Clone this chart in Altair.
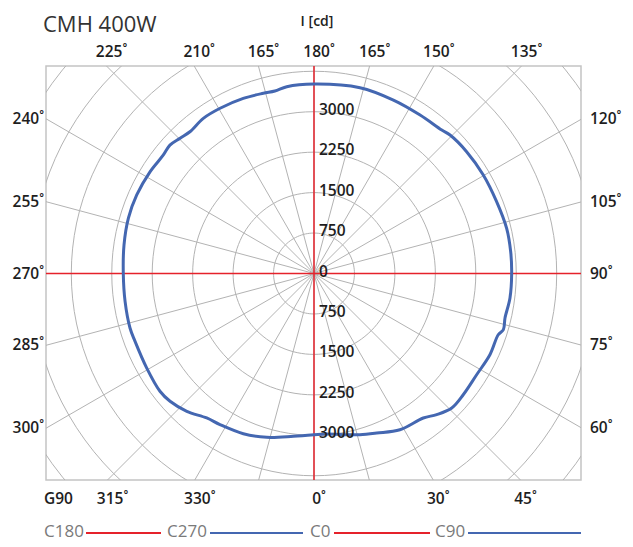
import altair as alt
import pandas as pd
import math

# ---------------- data ----------------
GAMMA = [0, 4.5, 10.3, 15.9, 21.5, 28.8, 37.1, 41.0, 45.7, 50.9, 58.1, 65.2, 71.6, 73.5, 76.9,
         82.9, 90, 96.3, 103.2, 111.5, 120.2, 128.6, 135.5, 138.3, 146.2, 155.4, 166.1, 180,
         188.3, 192.1, 195.7, 202.0, 209.6, 215.5, 221.2, 224.7, 228.3, 231.8, 238.2, 246.1,
         253.4, 261.5, 270, 278.4, 286.5, 290.7, 299.5, 307.4, 311.6, 317.3, 323.4, 328.1,
         336.2, 343.9, 352.8, 360]
INTENSITY = [2989, 2985, 3037, 3107, 3178, 3306, 3359, 3467, 3569, 3565, 3552, 3593, 3600, 3662, 3636,
             3662, 3665, 3669, 3669, 3639, 3632, 3621, 3599, 3562, 3536, 3537, 3549, 3513,
             3500, 3460, 3471, 3502, 3524, 3534, 3493, 3530, 3578, 3554, 3578, 3595,
             3591, 3562, 3536, 3541, 3558, 3549, 3563, 3595, 3569, 3478, 3337, 3300,
             3246, 3161, 3042, 2989]

RINGS = [750, 1500, 2250, 3000, 3750, 4500, 5250, 6000, 6750]
SCALE_LABELS = [750, 1500, 2250, 3000]
SPOKES = list(range(0, 360, 15))

TOP_ANGLES = [-45, -30, -15, 0, 15, 30, 45]
TOP_TEXT = ["225˚", "210˚", "165˚", "180˚", "165˚", "150˚", "135˚"]
BOTTOM_ANGLES = [-45, -30, 0, 30, 45]
BOTTOM_TEXT = ["315˚", "330˚", "0˚", "30˚", "45˚"]
LEFT_ANGLES = [30, 15, 0, -15, -30]
LEFT_TEXT = ["240˚", "255˚", "270˚", "285˚", "300˚"]
RIGHT_ANGLES = [30, 15, 0, -15, -30]
RIGHT_TEXT = ["120˚", "105˚", "90˚", "75˚", "60˚"]

LEGEND_LABELS = ["C180", "C270", "C0", "C90"]

# ---------------- styling / layout ----------------
RED = "#e5222b"
BLUE = "#4467b1"
GRID = "#b3b3b3"
FONT = "Open Sans"
W, H = 535, 414
K = 161.8 / 3000.0            # pixels per cd
XMIN, XMAX = -268 / K, 267 / K
YMIN, YMAX = -206.5 / K, 207.5 / K

xs = alt.Scale(domain=[XMIN, XMAX], nice=False, zero=False)
ys = alt.Scale(domain=[YMIN, YMAX], nice=False, zero=False)
X = lambda f: alt.X(f, type="quantitative", scale=xs, axis=None)
Y = lambda f: alt.Y(f, type="quantitative", scale=ys, axis=None)

# rings
ring_df = pd.DataFrame([(r, a) for r in RINGS for a in range(0, 361, 3)], columns=["r", "a"])
rings = alt.Chart(ring_df).transform_calculate(
    px="datum.r * sin(datum.a * PI / 180)",
    py="-datum.r * cos(datum.a * PI / 180)",
).mark_line(color=GRID, strokeWidth=1, clip=True).encode(
    x=X("px"), y=Y("py"), detail="r:N", order="a:Q")

# spokes
spoke_df = pd.DataFrame({"a": SPOKES})
spokes = alt.Chart(spoke_df).transform_calculate(
    x0="0", y0="0",
    x1="9000 * sin(datum.a * PI / 180)",
    y1="-9000 * cos(datum.a * PI / 180)",
).mark_rule(color=GRID, strokeWidth=1, clip=True).encode(
    x=X("x0"), y=Y("y0"), x2="x1:Q", y2="y1:Q")

# red axes
zero_df = pd.DataFrame({"v": [0]})
vline = alt.Chart(zero_df).mark_rule(color=RED, strokeWidth=1.5).encode(x=X("v"))
hline = alt.Chart(zero_df).mark_rule(color=RED, strokeWidth=1.5).encode(y=Y("v"))

# curve
curve_df = pd.DataFrame({"gamma": GAMMA, "I": INTENSITY})
curve = alt.Chart(curve_df).transform_calculate(
    px="datum.I * sin(datum.gamma * PI / 180)",
    py="-datum.I * cos(datum.gamma * PI / 180)",
).mark_line(color=BLUE, strokeWidth=3, clip=True, strokeJoin="round",
            interpolate="catmull-rom").encode(
    x=X("px"), y=Y("py"), order="gamma:Q")

# value labels
vals = [0] + SCALE_LABELS + [-v for v in SCALE_LABELS]
txts = ["0"] + [str(v) for v in SCALE_LABELS] * 2
val_df = pd.DataFrame({"x": [0] * len(vals), "y": vals, "t": txts})
val_labels = alt.Chart(val_df).mark_text(
    align="left", baseline="middle", dx=5, dy=-2, fontSize=15.5, font=FONT,
    color="#1e1e1e", fontWeight=600).encode(x=X("x"), y=Y("y"), text="t:N")


def tan(d):
    return math.tan(math.radians(d))


top_df = pd.DataFrame({"x": [YMAX * tan(a) for a in TOP_ANGLES], "y": [YMAX] * len(TOP_ANGLES), "t": TOP_TEXT})
bot_df = pd.DataFrame({"x": [-YMIN * tan(a) for a in BOTTOM_ANGLES], "y": [YMIN] * len(BOTTOM_ANGLES), "t": BOTTOM_TEXT})
left_df = pd.DataFrame({"x": [XMIN] * len(LEFT_ANGLES), "y": [-XMIN * tan(a) for a in LEFT_ANGLES], "t": LEFT_TEXT})
right_df = pd.DataFrame({"x": [XMAX] * len(RIGHT_ANGLES), "y": [XMAX * tan(a) for a in RIGHT_ANGLES], "t": RIGHT_TEXT})
g_df = pd.DataFrame({"x": [XMIN], "y": [YMIN], "t": ["G90"]})

lab = dict(fontSize=15.5, font=FONT, color="#1e1e1e", fontWeight=600, baseline="middle")
top_l = alt.Chart(top_df).mark_text(align="center", dx=5, dy=-14, **lab).encode(x=X("x"), y=Y("y"), text="t:N")
bot_l = alt.Chart(bot_df).mark_text(align="center", dx=5, dy=19, **lab).encode(x=X("x"), y=Y("y"), text="t:N")
left_l = alt.Chart(left_df).mark_text(align="right", dx=-2, **lab).encode(x=X("x"), y=Y("y"), text="t:N")
right_l = alt.Chart(right_df).mark_text(align="left", dx=9, **lab).encode(x=X("x"), y=Y("y"), text="t:N")
g_l = alt.Chart(g_df).mark_text(align="left", dx=-2, dy=19, **lab).encode(x=X("x"), y=Y("y"), text="t:N")

# titles
title = alt.Chart(zero_df).mark_text(align="left", baseline="alphabetic", fontSize=22, font=FONT,
                                     color="#333333", fontWeight=500).encode(
    x=alt.value(-3), y=alt.value(-34), text=alt.value("CMH 400W"))
unit = alt.Chart(zero_df).mark_text(align="center", baseline="alphabetic", fontSize=14, font=FONT,
                                    color="#222222", fontWeight=600).encode(
    x=alt.value(271), y=alt.value(-40), text=alt.value("I [cd]"))

# legend
LEG_Y = 466
LEG_TEXT_X = [-2, 121, 264, 389]
LEG_LINE = [(40, 115, RED), (164, 257, BLUE), (288, 384, RED), (422, 535, BLUE)]
legend_layers = []
for lbl, tx, (a, b, c) in zip(LEGEND_LABELS, LEG_TEXT_X, LEG_LINE):
    legend_layers.append(alt.Chart(zero_df).mark_text(
        align="left", baseline="middle", fontSize=17, font=FONT, color="#7a7a7a").encode(
        x=alt.value(tx), y=alt.value(LEG_Y), text=alt.value(lbl)))
    legend_layers.append(alt.Chart(zero_df).mark_rule(color=c, strokeWidth=2).encode(
        x=alt.value(a), x2=alt.value(b), y=alt.value(LEG_Y + 1)))

chart = alt.layer(
    rings, spokes, vline, hline, curve, val_labels,
    top_l, bot_l, left_l, right_l, g_l, title, unit, *legend_layers
).properties(
    width=W, height=H,
    autosize=alt.AutoSizeParams(type="none"),
    padding={"left": 38, "top": 58, "right": 44, "bottom": 62},
    background="white",
).configure_view(stroke="#c4c4c4", strokeWidth=1.5)

chart.save("out.html", embed_options={"renderer": "svg", "actions": False})
